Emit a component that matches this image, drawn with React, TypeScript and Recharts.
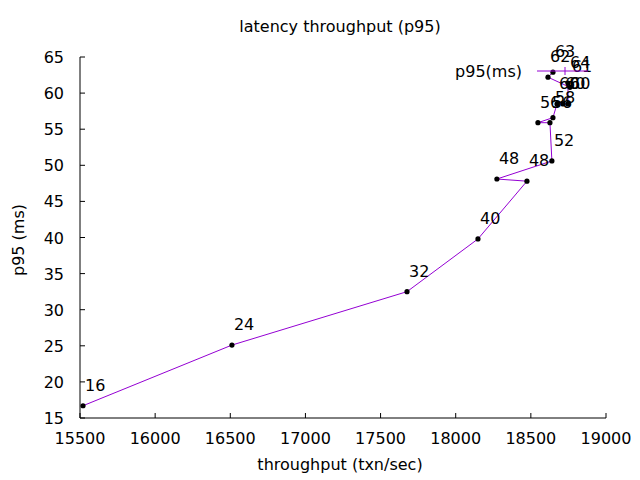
import React from 'react';
import { ScatterChart, Scatter, XAxis, YAxis, Legend } from 'recharts';

// throughput (txn/sec), p95 latency (ms), point labels
const throughput = [15520, 16511, 17676, 18148, 18474, 18274, 18640, 18627, 18547, 18647, 18674, 18714, 18747, 18747, 18760, 18614, 18647];
const p95 = [16.7, 25.1, 32.5, 39.8, 47.8, 48.1, 50.6, 55.9, 55.9, 56.6, 58.5, 58.5, 58.5, 61.4, 60.8, 62.2, 62.9];
const pointLabels = ['16', '24', '32', '40', '48', '48', '52', '56', '56', '58', '60', '60', '60', '64', '61', '62', '63'];

const xTicks = [15500, 16000, 16500, 17000, 17500, 18000, 18500, 19000];
const yTicks = [15, 20, 25, 30, 35, 40, 45, 50, 55, 60, 65];

const data = throughput.map((t, i) => ({ x: t, y: p95[i], label: pointLabels[i] }));

const FONT = '"DejaVu Sans", sans-serif';
const FS = 16;
const LINE = '#9400d3';

const BottomTick = (props: any) => {
  const { x, y, payload } = props;
  return (
    <g>
      <line x1={x} y1={y} x2={x} y2={y - 5} stroke="#000" />
      <text x={x} y={y + 26} textAnchor="middle" fontSize={FS} fontFamily={FONT} fill="#000">
        {payload.value}
      </text>
    </g>
  );
};

const TopTick = (props: any) => {
  const { x, y } = props;
  return <line x1={x} y1={y} x2={x} y2={y + 5} stroke="#000" />;
};

const LeftTick = (props: any) => {
  const { x, y, payload } = props;
  return (
    <g>
      <line x1={x} y1={y} x2={x + 5} y2={y} stroke="#000" />
      <text x={x - 16} y={y + 6} textAnchor="end" fontSize={FS} fontFamily={FONT} fill="#000">
        {payload.value}
      </text>
    </g>
  );
};

const RightTick = (props: any) => {
  const { x, y } = props;
  return <line x1={x} y1={y} x2={x - 5} y2={y} stroke="#000" />;
};

const PointShape = (props: any) => {
  const { cx, cy, payload } = props;
  return (
    <g>
      <circle cx={cx} cy={cy} r={2.6} fill="#000" />
      <text x={cx + 2} y={cy - 15} fontSize={FS} fontFamily={FONT} fill="#000">
        {payload.label}
      </text>
    </g>
  );
};

const KeyBox = () => (
  <svg width={160} height={20} style={{ overflow: 'visible', display: 'block' }}>
    <text x={82} y={16} textAnchor="end" fontSize={FS} fontFamily={FONT} fill="#000">p95(ms)</text>
    <line x1={97} y1={10} x2={148} y2={10} stroke={LINE} />
    <line x1={125} y1={6} x2={125} y2={14} stroke={LINE} />
  </svg>
);

const App: React.FC = () => {
  return (
    <div style={{ position: 'absolute', left: 0, top: 0, width: 640, height: 480, background: '#fff', fontFamily: FONT }}>
      <div style={{ position: 'absolute', left: 0, width: 680, top: 17, textAlign: 'center', fontSize: FS }}>
        latency throughput (p95)
      </div>
      <div style={{ position: 'absolute', left: 0, width: 680, top: 455, textAlign: 'center', fontSize: FS }}>
        throughput (txn/sec)
      </div>
      <div
        style={{
          position: 'absolute', left: 18, top: 240, fontSize: FS, whiteSpace: 'nowrap',
          transform: 'translate(-50%, -50%) rotate(-90deg)',
        }}
      >
        p95 (ms)
      </div>
      <ScatterChart width={640} height={480} margin={{ top: 57, right: 34, bottom: 0, left: 8 }}>
        <XAxis
          xAxisId="bottom"
          dataKey="x"
          type="number"
          domain={[15500, 19000]}
          ticks={xTicks}
          height={62}
          tickSize={0}
          tickMargin={0}
          tick={<BottomTick />}
          axisLine={{ stroke: '#000' }}
        />
        <XAxis
          xAxisId="top"
          orientation="top"
          dataKey="x"
          type="number"
          domain={[15500, 19000]}
          ticks={xTicks}
          height={0}
          tickSize={0}
          tickMargin={0}
          tick={<TopTick />}
          axisLine={{ stroke: '#000' }}
        />
        <YAxis
          yAxisId="left"
          dataKey="y"
          type="number"
          domain={[15, 65]}
          ticks={yTicks}
          width={72}
          tickSize={0}
          tickMargin={0}
          tick={<LeftTick />}
          axisLine={{ stroke: '#000' }}
        />
        <YAxis
          yAxisId="right"
          orientation="right"
          dataKey="y"
          type="number"
          domain={[15, 65]}
          ticks={yTicks}
          width={0}
          tickSize={0}
          tickMargin={0}
          tick={<RightTick />}
          axisLine={{ stroke: '#000' }}
        />
        <Legend
          content={() => <KeyBox />}
          wrapperStyle={{ position: 'absolute', left: 440, top: 61, width: 160, height: 0, overflow: 'visible' }}
        />
        <Scatter
          name="p95(ms)"
          data={data}
          xAxisId="bottom"
          yAxisId="left"
          line={{ stroke: LINE, strokeWidth: 1 }}
          shape={<PointShape />}
          isAnimationActive={false}
        />
      </ScatterChart>
    </div>
  );
};

export default App;
